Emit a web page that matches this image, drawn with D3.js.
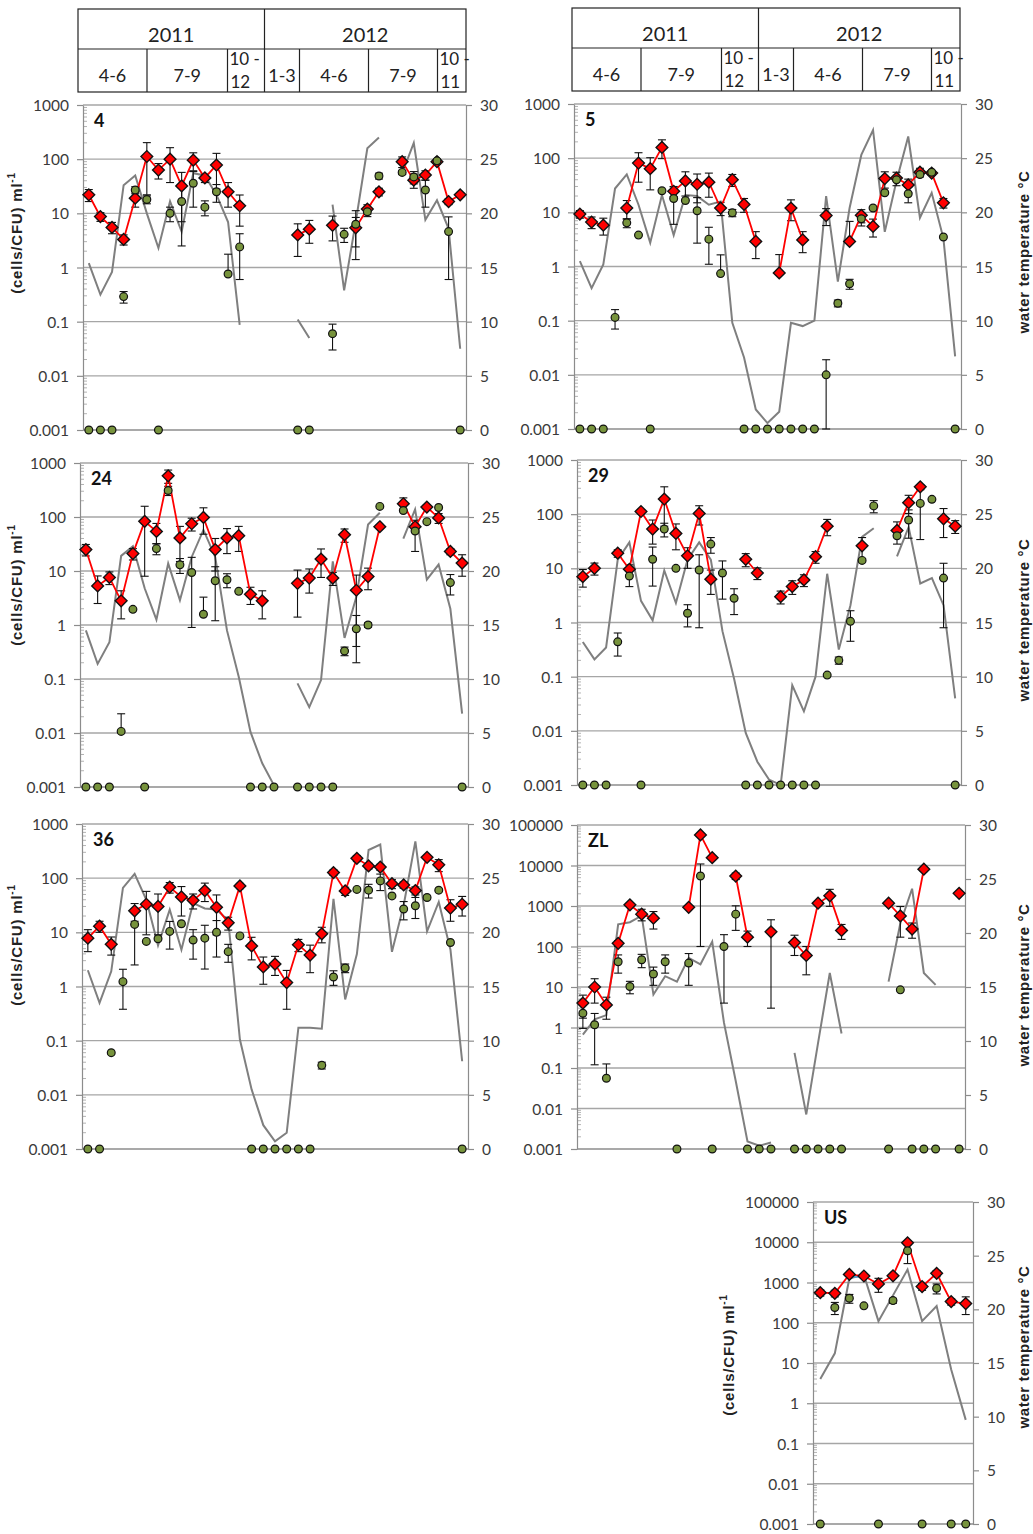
<!DOCTYPE html>
<html><head><meta charset="utf-8">
<script src="https://cdn.jsdelivr.net/npm/d3@7"></script>
<style>body{margin:0;background:#fff}</style>
</head><body>
<svg id="c" width="1033" height="1534"></svg>
<script>
const _ = null;
// ---------- tick labels ----------
const ticks6 = ["0.001","0.01","0.1","1","10","100","1000"];
const ticks8 = ["0.001","0.01","0.1","1","10","100","1000","10000","100000"];
const tempTicks = [0,5,10,15,20,25,30];
// ---------- header ----------
const headerYears = ["2011","2012"];
const headerMonths = [["4-6"],["7-9"],["10 -","12"],["1-3"],["4-6"],["7-9"],["10 -","11"]];

const names = ["4","5","24","29","36","ZL","US"];
// ---------- panel 4 ----------
const d4 = [22,8.7,5.5,3.3,19,112,63,100,32,96,45,78,25,13.8,_,_,_,_,4,5.1,_,6,_,5.4,12,25,_,90,41,51,90,16.5,22];
const c4 = [0,0,0,0.29,27,18,0,10,16.5,36,13,25,0.76,2.4,_,_,_,_,0,0,_,0.06,4.1,6.3,10.7,49,_,57,47,27,93,4.6,0];
const t4 = [15.4,12.5,14.6,22.6,23.5,20,16.8,21.1,18.3,23.7,23.5,21.7,19.2,9.7,_,_,_,_,10.2,8.5,_,20.8,12.9,19.2,26,27,_,23.7,26.5,19.4,21.2,18.6,7.5];
const dsd4 = [5.5,1.6,1.3,0.7,6,90,20,63,25,35,8,50,12,8,_,_,_,_,2.4,2.3,_,2.9,_,3,2.4,4,_,20,12,10,10,2,2];
const csd4 = [_,_,_,0.07,4,3,_,3,14,23,4,9,1,1.8,_,_,_,_,_,_,_,0.03,1.2,4.9,2,6,_,5,12,14,5,4,_];
// ---------- panel 5 ----------
const d5 = [9.3,6.6,5.8,_,12,81,64,158,24.5,38,33,36,12,40,14,2.9,_,0.76,12,3.1,_,8.7,_,2.9,8.8,5.5,42,43,32,55,53,15,_];
const c5 = [0,0,0,0.115,6.4,3.8,0,25,18,16.5,10.7,3.2,0.74,9.8,0,0,0,0,0,0,0,0.01,0.21,0.48,7.6,12,23,40,22,50,55,3.5,0];
const t5 = [15.5,13,15.2,22.2,23.5,20.7,17.2,21.6,17.9,21.6,21.5,20.7,21,9.8,6.6,1.8,0.55,1.6,9.8,9.5,10,21.5,13.6,20.4,25.3,27.6,18.2,22.9,27,19.5,21.8,17.6,6.7];
const dsd5 = [1.5,1.6,2,_,4.5,45,38,60,5,18,18,17,3.3,10,4,1.5,_,0.9,5,1.3,_,3,_,3.9,2.4,2,14,12,9,10,5,3,_];
const csd5 = [_,_,_,0.045,1.2,_,_,_,12,_,8,2.1,0.9,1.5,_,_,_,_,_,_,_,0.009,0.03,0.1,2,_,_,_,7,_,_,_,_];
// ---------- panel 24 ----------
const d24 = [25,5.3,7.6,2.8,21,83,54,580,41,75,98,25,41,45,3.7,2.8,_,_,5.9,7.4,16.6,7.4,47,4.4,7.9,66,_,176,66,153,96,23,14];
const c24 = [0,0,0,0.0107,1.95,0,26,310,13,9.4,1.58,6.6,6.9,4.2,0,0,0,_,0,0,0,0,0.33,0.85,1.0,157,_,132,55,82,150,6.1,0];
const t24 = [14.5,11.4,13.4,21.4,22.3,18.4,15.5,20.7,17.3,21.3,23.8,21.3,14.5,10.2,5.1,2.2,0.15,_,9.6,7.4,9.9,20.9,13.8,17.6,24.3,25.4,_,23,25.7,19.2,20.6,16.5,6.8];
const dsd24 = [6,2.8,2,1.5,5,75,22,160,26,20,50,15,20,22,1.3,1.5,_,_,4.5,3.5,9,2,13,4,3.4,5,_,50,8,15,20,3,6];
const csd24 = [_,_,_,0.012,_,_,6,60,4,8.5,1.7,5.4,2,_,_,_,_,_,_,_,_,_,0.06,0.65,0.1,_,_,_,32,_,_,2.5,_];
// ---------- panel 29 ----------
const d29 = [7,10,_,19,9.6,112,53,190,44,17,103,6.3,_,_,14.7,8.2,_,3,4.6,6.1,16.4,60,_,_,26,_,_,50,163,320,_,82,60];
const c29 = [0,0,0,0.44,7.2,0,14.7,53,10,1.48,9.3,28,8.2,2.8,0,0,0,0,0,0,0,0.107,0.2,1.05,14,142,_,40,78,158,188,6.6,0];
const t29 = [13.2,11.6,12.7,20.8,22.4,17,15.2,19.8,16.8,20.8,22.4,20.8,14.2,9.8,4.8,2.15,0.5,0,9.2,6.8,10,19.5,12.5,16.6,22.9,23.7,_,21.1,23.8,18.6,19.1,16.6,8];
const dsd29 = [2.5,2.5,_,3,2,10,25,130,22,7,40,3,_,_,4,2,_,0.8,1.3,1.5,4,20,_,_,11,_,_,22,60,30,_,45,16];
const csd29 = [_,_,_,0.2,2.6,_,10,15,_,0.65,8.5,9,5.5,1.4,_,_,_,_,_,_,_,_,0.03,0.6,_,36,_,_,42,124,_,5.8,_];
// ---------- panel 36 ----------
const d36 = [7.8,13,6,_,25,33,30,68,45,39,59,29,15,72,5.6,2.3,2.6,1.18,5.9,3.8,9.4,127,58,232,168,160,79,75,59,243,176,28,33];
const c36 = [0,0,0.06,1.23,14,6.8,7.6,10.4,14.4,7.2,7.8,10,4.4,8.6,0,0,0,0,0,0,0.035,1.5,2.2,62,60,89,47,27,31,44,60,6.5,0];
const t36 = [16.5,13.5,16.4,24.1,25.4,23,18.8,22.1,18.4,22.7,22.2,22.1,21.1,10.1,5.5,2.2,0.7,1.5,11.2,11.2,11.1,23.1,13.8,18,27.6,28.1,18.2,22.5,28.4,20.1,22.8,18.4,8.1];
const dsd36 = [3.4,3,2.2,_,9,24,21,15,25,12,22,20,4,8,2.5,1.2,1,0.8,1.5,2,3,15,10,30,20,20,15,10,10,20,44,12,13];
const csd36 = [_,_,_,0.85,11.5,_,_,5.5,_,4,5.7,6.5,1.6,_,_,_,_,_,_,_,0.005,0.45,0.4,_,17,30,_,10,13,_,_,_,_];
// ---------- panel ZL ----------
const dZL = [4,10,3.6,120,1070,630,500,_,_,930,57000,15600,_,5500,170,_,230,_,125,60,1170,1780,250,_,_,_,1170,570,270,8100,_,_,2050];
const cZL = [2.25,1.17,0.056,42,10.3,47,21,42,0,39,5500,0,100,630,0,0,0,_,0,0,0,0,0,_,_,_,0,8.5,0,0,0,_,0];
const tZL = [10.6,12,12.4,20.8,21,21.6,14.3,16,15.5,17.7,17.1,19.2,11.7,6.3,0.7,0.3,0.6,_,8.9,3.2,9.8,16.3,10.7,_,_,_,15.5,20.9,24.1,16.3,15.2,_,_];
const dsdZL = [2.3,6,2,20,100,200,230,_,_,_,_,_,_,1000,70,_,227,_,65,40,_,800,100,_,_,_,_,400,110,1000,_,_,_];
const csdZL = [1.3,1.05,0.07,20,3.5,17,10,20,_,28,5400,_,96,380,_,_,_,_,_,_,_,_,_,_,_,_,_,_,_,_,_,_,_];
// ---------- panel US ----------
const dUS = [560,540,1590,1450,920,1470,9700,790,1690,335,300];
const cUS = [0,240,405,263,0,355,6150,0,720,0,0];
const tUS = [13.5,15.9,22.9,23.2,18.9,21.3,23.7,18.9,20.3,14.4,9.7];
const dsdUS = [100,100,150,150,350,200,1000,150,300,60,140];
const csdUS = [_,80,100,_,_,50,3200,_,200,_,_];
const bUS = [_,_,1400,1400,_,_,_,_,_,_,_];

// ---------- layout (positions only) ----------
const layout = [
  {x0:83, x1:466, y0:105, y1:430, lt:[18,233]},
  {x0:574, x1:961, y0:104, y1:429, rt:[1025,252]},
  {x0:80, x1:468, y0:463, y1:787, lt:[18,585]},
  {x0:577, x1:961, y0:460, y1:785, rt:[1025,620]},
  {x0:82, x1:468, y0:824, y1:1149, lt:[18,945]},
  {x0:577, x1:965, y0:825, y1:1149, rt:[1025,985]},
  {x0:813, x1:973, y0:1202, y1:1524, lt:[730,1355], rt:[1025,1347]}
];
const seriesSets = [
  [d4,c4,t4,dsd4,csd4,ticks6,_],
  [d5,c5,t5,dsd5,csd5,ticks6,_],
  [d24,c24,t24,dsd24,csd24,ticks6,_],
  [d29,c29,t29,dsd29,csd29,ticks6,_],
  [d36,c36,t36,dsd36,csd36,ticks6,_],
  [dZL,cZL,tZL,dsdZL,csdZL,ticks8,_],
  [dUS,cUS,tUS,dsdUS,csdUS,ticks8,bUS]
];
const headerPos = [{x:78,y:9},{x:572,y:8}];
const headerEdges = [0,69,149.5,186.5,221.5,290.5,359.5,388];

const svg = d3.select('#c');
const NUMFONT = "Lato,'Open Sans',sans-serif";
const TITLEFONT = "'Liberation Sans',Arial,sans-serif";
const GRID = '#a6a6a6', AX = '#8c8c8c';

// ---------- headers ----------
headerPos.forEach(hp => {
  const g = svg.append('g').attr('transform', `translate(${hp.x},${hp.y})`);
  const W = headerEdges[headerEdges.length-1], H = 83, mid = 40;
  const ln = (x1,y1,x2,y2) => g.append('line').attr('x1',x1).attr('y1',y1).attr('x2',x2).attr('y2',y2)
      .attr('stroke','#222').attr('stroke-width',1.2);
  g.append('rect').attr('x',0).attr('y',0).attr('width',W).attr('height',H)
    .attr('fill','none').attr('stroke','#222').attr('stroke-width',1.2);
  ln(0,mid,W,mid);
  ln(headerEdges[3],0,headerEdges[3],H);
  [1,2,4,5,6].forEach(k => ln(headerEdges[k],mid,headerEdges[k],H));
  const yearSpans = [[0,3],[3,7]];
  headerYears.forEach((yr,i) => {
    const a = headerEdges[yearSpans[i][0]], b = headerEdges[yearSpans[i][1]];
    g.append('text').attr('x',(a+b)/2).attr('y',33).attr('text-anchor','middle')
      .attr('font-family',NUMFONT).attr('font-size',20).attr('fill','#222').text(yr);
  });
  headerMonths.forEach((lines,i) => {
    const a = headerEdges[i], b = headerEdges[i+1];
    if (lines.length === 1) {
      g.append('text').attr('x',(a+b)/2).attr('y',73).attr('text-anchor','middle')
        .attr('font-family',NUMFONT).attr('font-size',18).attr('fill','#222').text(lines[0]);
    } else {
      g.append('text').attr('x',a+2).attr('y',56).attr('font-family',NUMFONT).attr('font-size',17).attr('fill','#222').text(lines[0]);
      g.append('text').attr('x',a+3).attr('y',79).attr('font-family',NUMFONT).attr('font-size',17).attr('fill','#222').text(lines[1]);
    }
  });
});

// ---------- panels ----------
function drawPanel(idx) {
  const L = layout[idx];
  const [dia, cir, tmp, dsd, csd, tl, blue] = seriesSets[idx];
  const n = dia.length;
  const decades = tl.map(Number);
  const x = d3.scalePoint().domain(d3.range(n)).range([L.x0, L.x1]).padding(0.5);
  const y = d3.scaleLog().domain([decades[0], decades[decades.length-1]]).range([L.y1, L.y0]);
  const t = d3.scaleLinear().domain([0,30]).range([L.y1, L.y0]);
  const yv = v => y(v === 0 ? decades[0] : v);
  const g = svg.append('g');

  // gridlines
  g.selectAll(null).data(decades).join('line')
    .attr('x1',L.x0).attr('x2',L.x1).attr('y1',d=>y(d)).attr('y2',d=>y(d))
    .attr('stroke',(d,i)=> i===0 ? AX : GRID).attr('stroke-width',1.3);
  // minor ticks
  const minors = [];
  decades.slice(0,-1).forEach(d => { for (let k=2;k<10;k++) minors.push(d*k); });
  g.selectAll(null).data(minors).join('line')
    .attr('x1',L.x0).attr('x2',L.x0+4).attr('y1',d=>y(d)).attr('y2',d=>y(d))
    .attr('stroke','#a0a0a0').attr('stroke-width',0.8);

  // left axis
  const la = g.append('g').attr('transform',`translate(${L.x0},0)`)
    .call(d3.axisLeft(y).tickValues(decades).tickFormat((d,i)=>tl[i]).tickSize(6).tickSizeOuter(0).tickPadding(8));
  la.attr('font-family',NUMFONT).attr('font-size',15.5);
  la.selectAll('path,line').attr('stroke',AX).attr('stroke-width',1.2);
  la.selectAll('text').attr('fill','#3a3a3a').attr('dy','0.36em');
  // right axis
  const ra = g.append('g').attr('transform',`translate(${L.x1},0)`)
    .call(d3.axisRight(t).tickValues(tempTicks).tickSize(6).tickSizeOuter(0).tickPadding(8));
  ra.attr('font-family',NUMFONT).attr('font-size',15.5);
  ra.selectAll('path,line').attr('stroke',AX).attr('stroke-width',1.2);
  ra.selectAll('text').attr('fill','#3a3a3a').attr('dy','0.36em');

  // temperature line
  g.append('path').datum(tmp)
    .attr('d', d3.line().defined(d=>d!==null).x((d,i)=>x(i)).y(d=>t(d)))
    .attr('fill','none').attr('stroke','#7f7f7f').attr('stroke-width',2);

  // blue series (US only)
  if (blue) {
    g.append('path').datum(blue)
      .attr('d', d3.line().defined(d=>d!==null).x((d,i)=>x(i)).y(d=>y(d)))
      .attr('fill','none').attr('stroke','#4fa8e0').attr('stroke-width',2);
  }

  // error bars
  function errBars(vals, sds) {
    vals.forEach((v,i) => {
      const s = sds[i];
      if (v === null || v === 0 || s === null || s === undefined || s <= 0) return;
      const cx = x(i);
      const hi = v + s, lo = v - s;
      const yTop = y(Math.min(hi, decades[decades.length-1]));
      const yBot = lo > 0 ? y(Math.max(lo, decades[0])) : y(v);
      const seg = (x1,y1,x2,y2) => g.append('line').attr('x1',x1).attr('x2',x2).attr('y1',y1).attr('y2',y2)
        .attr('stroke','#111').attr('stroke-width',1.1);
      seg(cx,yTop,cx,yBot);
      seg(cx-4,yTop,cx+4,yTop);
      if (lo > 0) seg(cx-4,yBot,cx+4,yBot);
    });
  }
  errBars(dia, dsd);
  errBars(cir, csd);

  // red line + diamonds
  g.append('path').datum(dia)
    .attr('d', d3.line().defined(d=>d!==null).x((d,i)=>x(i)).y(d=>yv(d)))
    .attr('fill','none').attr('stroke','#ff0000').attr('stroke-width',1.8);
  const dd = dia.map((v,i)=>({v,i})).filter(o=>o.v!==null);
  g.selectAll(null).data(dd).join('path')
    .attr('d', d3.symbol(d3.symbolDiamond2, 88))
    .attr('transform', o=>`translate(${x(o.i)},${yv(o.v)})`)
    .attr('fill','#ff0000').attr('stroke','#111').attr('stroke-width',1.4);
  // circles
  const cc = cir.map((v,i)=>({v,i})).filter(o=>o.v!==null);
  g.selectAll(null).data(cc).join('circle')
    .attr('cx', o=>x(o.i)).attr('cy', o=>yv(o.v)).attr('r',3.9)
    .attr('fill','#77933c').attr('stroke','#111').attr('stroke-width',1.2);

  // panel label
  g.append('text').attr('x',L.x0+11).attr('y',L.y0+22)
    .attr('font-family',NUMFONT).attr('font-weight','bold')
    .attr('font-size',18).attr('fill','#111').text(names[idx]);

  // axis titles
  if (L.lt) {
    const tx = g.append('text').attr('transform',`translate(${L.lt[0]},${L.lt[1]}) rotate(-90)`)
      .attr('text-anchor','middle').attr('dominant-baseline','middle')
      .attr('font-family',TITLEFONT).attr('font-weight','bold').attr('font-size',15)
      .attr('letter-spacing',0.8).attr('fill','#222');
    tx.append('tspan').text('(cells/CFU) ml');
    tx.append('tspan').attr('font-size',10).attr('dy',-6).text('-1');
  }
  if (L.rt) {
    g.append('text').attr('transform',`translate(${L.rt[0]},${L.rt[1]}) rotate(-90)`)
      .attr('text-anchor','middle').attr('dominant-baseline','middle')
      .attr('font-family',TITLEFONT).attr('font-weight','bold').attr('font-size',15)
      .attr('letter-spacing',0.6).attr('fill','#222').text('water temperature °C');
  }
}
layout.forEach((L,i)=>drawPanel(i));
</script>
</body></html>
